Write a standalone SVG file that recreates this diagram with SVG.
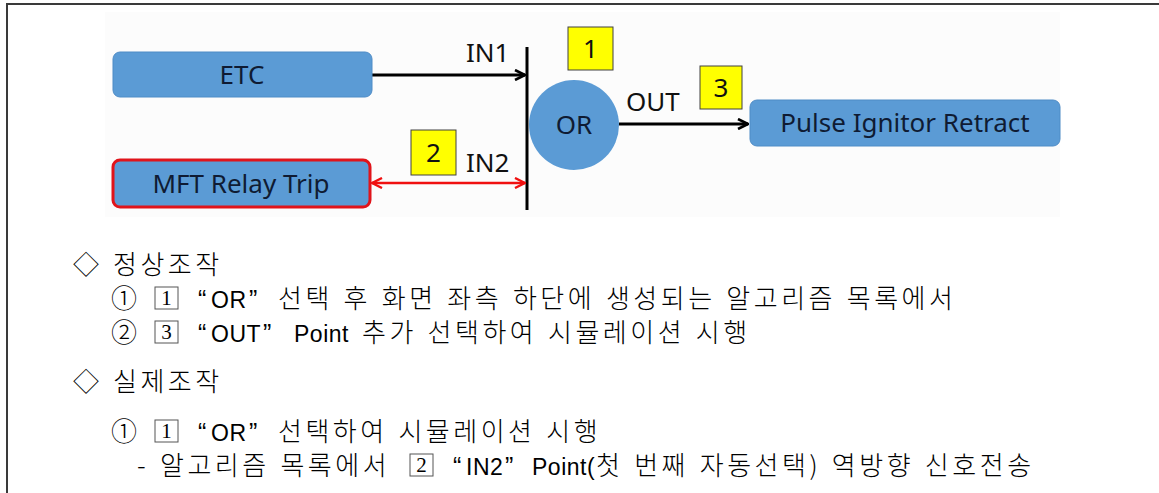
<svg xmlns="http://www.w3.org/2000/svg" width="1159" height="493" viewBox="0 0 1159 493">
  <style>
    .frame { fill: none; stroke: #3a3a3a; stroke-width: 2; }
    .block { fill: #5b9bd5; stroke: #4f8cc6; stroke-width: 1; }
    .block-hot { fill: #5b9bd5; stroke: #e0141b; stroke-width: 3; }
    .lbl { font-family: "Noto Sans", "Open Sans", sans-serif; font-size: 26px; fill: #0f1b33; text-anchor: middle; }
    .pin { font-family: "Noto Sans", "Open Sans", sans-serif; font-size: 26px; fill: #111; }
    .tag { fill: #ffff00; stroke: #404040; stroke-width: 1; }
    .tag-txt { font-family: "Noto Sans", "Open Sans", sans-serif; font-size: 26px; fill: #111; text-anchor: middle; }
    .wire { fill: none; stroke: #000; stroke-width: 3; }
    .wire-red { fill: none; stroke: #f01010; stroke-width: 2.5; }
    .note { font-family: "Noto Sans CJK KR", sans-serif; font-size: 26px; font-weight: 300; fill: #000; letter-spacing: 3.5px; word-spacing: 1.5px; }
    .lat { font-family: "Liberation Sans", sans-serif; font-size: 23px; letter-spacing: 0.5px; word-spacing: 0; }
    .q { font-family: "Liberation Sans", sans-serif; font-size: 25px; letter-spacing: 0; }
    .sq { fill: #fff; stroke: #555; stroke-width: 1; }
    .sq-txt { font-family: "Liberation Serif", serif; font-size: 21px; fill: #000; text-anchor: middle; }
  </style>
  <defs>
    <marker id="head" viewBox="0 0 12 12" refX="11" refY="6" markerWidth="12" markerHeight="12" markerUnits="userSpaceOnUse" orient="auto-start-reverse">
      <path d="M1,1 L11,6 L1,11" fill="none" stroke="#000" stroke-width="2.6"/>
    </marker>
    <marker id="head-red" viewBox="0 0 12 12" refX="11" refY="6" markerWidth="12" markerHeight="12" markerUnits="userSpaceOnUse" orient="auto-start-reverse">
      <path d="M1,1 L11,6 L1,11" fill="none" stroke="#f01010" stroke-width="2.4"/>
    </marker>
  </defs>

  <rect width="1159" height="493" fill="#fff"/>
  <!-- outer frame: top and left edges -->
  <path class="frame" d="M7,493 V4 H1159"/>
  <!-- logic sketch backdrop -->
  <rect x="105" y="12" width="955" height="205" fill="#fcfcfc"/>

  <!-- connectors -->
  <g id="connectors">
    <line class="wire" x1="527" y1="47" x2="527" y2="210"/>
    <line class="wire" x1="372" y1="75" x2="525" y2="75" marker-end="url(#head)"/>
    <line class="wire-red" x1="372" y1="183" x2="525" y2="183" marker-start="url(#head-red)" marker-end="url(#head-red)"/>
    <line class="wire" x1="619" y1="124" x2="748" y2="124" marker-end="url(#head)"/>
    <text class="pin" x="466" y="62">IN1</text>
    <text class="pin" x="466" y="172">IN2</text>
    <text class="pin" x="626" y="111">OUT</text>
  </g>

  <g id="etc">
    <rect class="block" x="113" y="52" width="259" height="45" rx="7"/>
    <text class="lbl" x="242" y="84">ETC</text>
  </g>

  <g id="mft-relay-trip">
    <rect class="block-hot" x="113" y="160" width="257" height="47" rx="7"/>
    <text class="lbl" x="241" y="193">MFT Relay Trip</text>
  </g>

  <g id="or-gate">
    <circle cx="574" cy="125" r="45" fill="#5b9bd5"/>
    <text class="lbl" x="574" y="134">OR</text>
  </g>

  <g id="pulse-ignitor-retract">
    <rect class="block" x="750" y="100" width="310" height="46" rx="7"/>
    <text class="lbl" x="905" y="132">Pulse Ignitor Retract</text>
  </g>

  <g id="tag-1">
    <rect class="tag" x="568" y="27" width="45" height="43"/>
    <text class="tag-txt" x="590.5" y="58">1</text>
  </g>
  <g id="tag-2">
    <rect class="tag" x="411" y="130" width="45" height="45"/>
    <text class="tag-txt" x="433.5" y="162">2</text>
  </g>
  <g id="tag-3">
    <rect class="tag" x="700" y="66" width="42" height="43"/>
    <text class="tag-txt" x="721" y="97">3</text>
  </g>

  <!-- operating notes -->
  <g id="notes">
    <text class="note" x="73" y="274">◇<tspan x="113">정상조작</tspan></text>

    <text class="note" x="111" y="308">①</text>
    <rect class="sq" x="155" y="287" width="23" height="22"/>
    <text class="sq-txt" x="166.5" y="305">1</text>
    <text class="note" y="308"><tspan class="q" x="198">“</tspan><tspan class="lat" x="211">OR</tspan><tspan class="q" x="249">”</tspan><tspan x="278">선택 후 화면 좌측 하단에 생성되는 알고리즘 목록에서</tspan></text>

    <text class="note" x="111" y="342">②</text>
    <rect class="sq" x="155" y="321" width="23" height="22"/>
    <text class="sq-txt" x="166.5" y="339">3</text>
    <text class="note" y="342"><tspan class="q" x="198">“</tspan><tspan class="lat" x="211">OUT</tspan><tspan class="q" x="263">”</tspan><tspan class="lat" x="294">Point</tspan><tspan x="362">추가 선택하여 시뮬레이션 시행</tspan></text>

    <text class="note" x="73" y="391">◇<tspan x="113">실제조작</tspan></text>

    <text class="note" x="111" y="441">①</text>
    <rect class="sq" x="155" y="420" width="23" height="22"/>
    <text class="sq-txt" x="166.5" y="438">1</text>
    <text class="note" y="441"><tspan class="q" x="198">“</tspan><tspan class="lat" x="211">OR</tspan><tspan class="q" x="249">”</tspan><tspan x="278">선택하여 시뮬레이션 시행</tspan></text>

    <text class="note" x="137" y="475">-<tspan x="160">알고리즘 목록에서</tspan></text>
    <rect class="sq" x="410" y="454" width="23" height="22"/>
    <text class="sq-txt" x="421.5" y="472">2</text>
    <text class="note" y="475"><tspan class="q" x="453">“</tspan><tspan class="lat" x="466">IN2</tspan><tspan class="q" x="505">”</tspan><tspan class="lat" x="532">Point(</tspan><tspan x="596">첫 번째 자동선택) 역방향 신호전송</tspan></text>
  </g>
</svg>
